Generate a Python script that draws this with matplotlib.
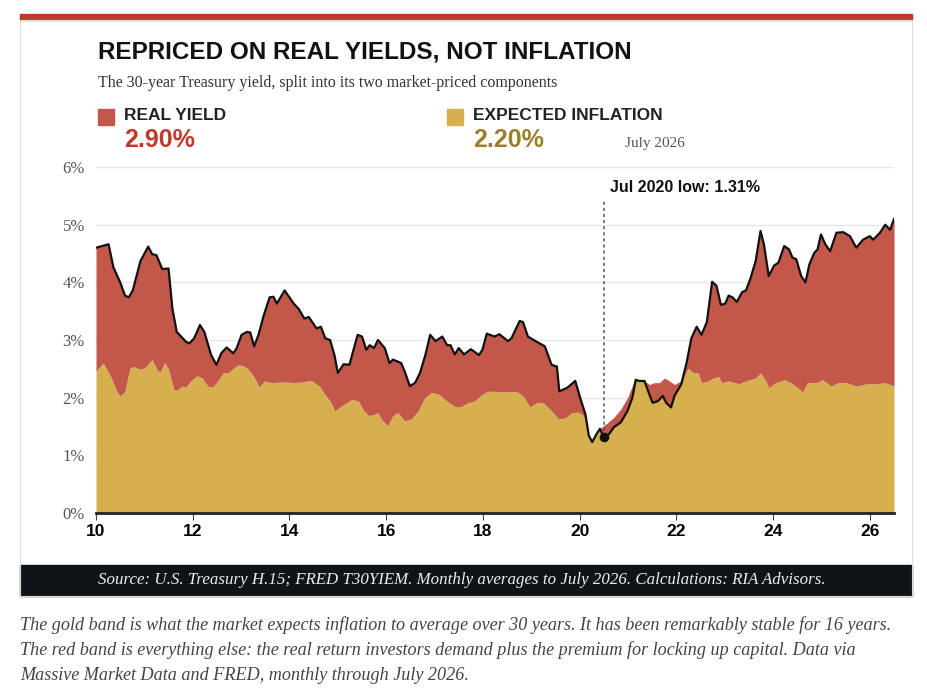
import numpy as np
import matplotlib.pyplot as plt
from matplotlib.patches import Rectangle

plt.rcParams['font.family'] = ['Liberation Sans', 'DejaVu Sans']

# 30-year Treasury yield (total), decimal years since 2000
yield_x = [10.0, 10.26, 10.36, 10.5, 10.6, 10.68, 10.76, 10.92, 11.08, 11.16, 11.25, 11.37, 11.5, 11.58,
           11.67, 11.86, 11.93, 12.03, 12.15, 12.24, 12.38, 12.49, 12.59, 12.7, 12.84, 12.91, 13.01, 13.12,
           13.19, 13.27, 13.36, 13.47, 13.59, 13.67, 13.74, 13.9, 14.09, 14.19, 14.31, 14.4, 14.56, 14.65,
           14.74, 14.84, 14.93, 15.0, 15.12, 15.24, 15.41, 15.5, 15.59, 15.66, 15.75, 15.83, 15.97, 16.07,
           16.14, 16.31, 16.38, 16.49, 16.6, 16.7, 16.81, 16.91, 17.02, 17.16, 17.26, 17.33, 17.42, 17.5,
           17.61, 17.75, 17.92, 17.99, 18.08, 18.24, 18.34, 18.52, 18.59, 18.76, 18.83, 18.93, 19.11, 19.28,
           19.42, 19.53, 19.58, 19.74, 19.91, 20.01, 20.12, 20.19, 20.26, 20.35, 20.42, 20.5, 20.61, 20.71,
           20.85, 20.99, 21.09, 21.16, 21.23, 21.34, 21.44, 21.51, 21.62, 21.72, 21.79, 21.89, 21.96, 22.1,
           22.21, 22.31, 22.42, 22.52, 22.63, 22.74, 22.83, 22.92, 23.01, 23.08, 23.16, 23.25, 23.36, 23.44,
           23.53, 23.64, 23.74, 23.81, 23.91, 24.02, 24.11, 24.23, 24.33, 24.4, 24.48, 24.58, 24.67, 24.75,
           24.85, 24.92, 24.99, 25.08, 25.18, 25.31, 25.45, 25.59, 25.72, 25.86, 26.0, 26.07, 26.21, 26.32,
           26.42, 26.5]
yield_v = [4.6, 4.66, 4.26, 4.0, 3.77, 3.74, 3.86, 4.37, 4.62, 4.49, 4.47, 4.23, 4.24, 3.54,
           3.14, 2.97, 2.94, 3.03, 3.26, 3.14, 2.74, 2.57, 2.77, 2.87, 2.77, 2.86, 3.09, 3.14,
           3.13, 2.89, 3.09, 3.43, 3.74, 3.75, 3.63, 3.86, 3.63, 3.54, 3.37, 3.4, 3.2, 3.23,
           3.03, 3.0, 2.74, 2.43, 2.58, 2.57, 3.09, 3.06, 2.83, 2.91, 2.86, 3.0, 2.86, 2.6,
           2.66, 2.6, 2.46, 2.2, 2.26, 2.43, 2.74, 3.09, 2.98, 3.06, 2.91, 2.91, 2.75, 2.86,
           2.75, 2.84, 2.74, 2.83, 3.11, 3.06, 3.1, 2.98, 3.03, 3.33, 3.31, 3.06, 2.97, 2.89,
           2.57, 2.54, 2.11, 2.17, 2.29, 2.0, 1.71, 1.34, 1.23, 1.37, 1.46, 1.31, 1.37, 1.49,
           1.57, 1.77, 2.0, 2.31, 2.29, 2.29, 2.06, 1.91, 1.94, 2.03, 1.91, 1.83, 2.03, 2.23,
           2.6, 3.03, 3.23, 3.09, 3.31, 4.01, 3.94, 3.61, 3.63, 3.77, 3.74, 3.66, 3.83, 3.86,
           4.06, 4.37, 4.89, 4.66, 4.11, 4.29, 4.34, 4.63, 4.57, 4.43, 4.4, 4.11, 4.0, 4.31,
           4.51, 4.57, 4.83, 4.66, 4.54, 4.86, 4.87, 4.8, 4.6, 4.74, 4.8, 4.74, 4.86, 5.0,
           4.91, 5.1]

# 30-year expected inflation
infl_x = [10.0, 10.15, 10.3, 10.43, 10.5, 10.6, 10.7, 10.78, 10.88, 11.0, 11.16, 11.27, 11.33, 11.42,
          11.5, 11.61, 11.68, 11.78, 11.85, 11.96, 12.09, 12.2, 12.31, 12.41, 12.52, 12.63, 12.73, 12.84,
          12.94, 13.05, 13.15, 13.26, 13.38, 13.48, 13.65, 13.83, 13.97, 14.04, 14.24, 14.45, 14.62,
          14.73, 14.84, 14.94, 15.08, 15.29, 15.43, 15.54, 15.64, 15.75, 15.82, 15.93, 16.03, 16.14,
          16.24, 16.38, 16.52, 16.66, 16.8, 16.94, 17.09, 17.3, 17.44, 17.54, 17.68, 17.82, 17.99,
          18.1, 18.27, 18.48, 18.69, 18.83, 18.97, 19.11, 19.25, 19.42, 19.56, 19.7, 19.84, 19.98,
          20.08, 20.19, 20.26, 20.4, 20.5, 20.57, 20.71, 20.85, 20.99, 21.13, 21.23, 21.34, 21.44,
          21.55, 21.65, 21.75, 21.82, 21.96, 22.1, 22.24, 22.35, 22.45, 22.52, 22.66, 22.76, 22.87,
          22.94, 23.08, 23.29, 23.5, 23.64, 23.74, 23.85, 23.91, 24.05, 24.23, 24.37, 24.51, 24.61,
          24.71, 24.89, 25.03, 25.2, 25.34, 25.52, 25.72, 25.93, 26.14, 26.32, 26.5]
infl_v = [2.46, 2.6, 2.37, 2.11, 2.03, 2.11, 2.51, 2.54, 2.5, 2.51, 2.66, 2.47, 2.45, 2.61,
          2.49, 2.14, 2.13, 2.2, 2.18, 2.29, 2.38, 2.34, 2.2, 2.18, 2.29, 2.43, 2.43, 2.51,
          2.57, 2.55, 2.49, 2.37, 2.18, 2.29, 2.26, 2.27, 2.27, 2.26, 2.27, 2.3, 2.2,
          2.06, 1.94, 1.77, 1.86, 1.97, 1.94, 1.77, 1.69, 1.71, 1.74, 1.6, 1.51, 1.69,
          1.74, 1.6, 1.63, 1.77, 2.0, 2.09, 2.06, 1.91, 1.84, 1.84, 1.91, 1.94, 2.06,
          2.11, 2.11, 2.1, 2.11, 2.03, 1.84, 1.91, 1.91, 1.77, 1.63, 1.65, 1.74, 1.75,
          1.69, 1.34, 1.26, 1.42, 1.52, 1.56, 1.66, 1.8, 2.0, 2.29, 2.3, 2.29, 2.23,
          2.26, 2.26, 2.34, 2.31, 2.23, 2.29, 2.51, 2.43, 2.43, 2.26, 2.29, 2.34, 2.37,
          2.26, 2.29, 2.24, 2.31, 2.34, 2.43, 2.29, 2.17, 2.26, 2.31, 2.26, 2.17, 2.1,
          2.26, 2.26, 2.31, 2.2, 2.26, 2.26, 2.2, 2.24, 2.24, 2.26, 2.2]

low_x, low_v = 20.5, 1.31
x_ticks = [10, 12, 14, 16, 18, 20, 22, 24, 26]
y_ticks = [0, 1, 2, 3, 4, 5, 6]

RED = '#C3574A'
GOLD = '#D6B04F'
serif = 'Liberation Serif'

W, H = 928, 696
fig = plt.figure(figsize=(9.28, 6.96), dpi=100)

def fx(px): return px / W
def fy(py): return 1 - py / H

# top rule, frame, footer band
fig.add_artist(Rectangle((fx(20), fy(20)), fx(892), 6 / H, color='#C0392B', transform=fig.transFigure))
fig.add_artist(Rectangle((fx(20), fy(596)), fx(892), 31 / H, color='#101418', transform=fig.transFigure))
fig.add_artist(Rectangle((fx(20), fy(596)), fx(892), 576 / H, fill=False, ec='#dddddd', lw=0.8,
                         transform=fig.transFigure))

fig.text(fx(98), fy(52), 'REPRICED ON REAL YIELDS, NOT INFLATION', fontsize=17.5, fontweight='bold',
         va='center', color='#111111')
fig.text(fx(98), fy(83), 'The 30-year Treasury yield, split into its two market-priced components',
         fontsize=11.5, family=serif, va='center', color='#333333')

fig.add_artist(Rectangle((fx(98), fy(125)), 16 / W, 16 / H, color=RED, transform=fig.transFigure))
fig.text(fx(124), fy(116), 'REAL YIELD', fontsize=12.5, fontweight='bold', va='center', color='#222222')
fig.text(fx(124), fy(140), '2.90%', fontsize=18, fontweight='bold', va='center', color='#C0392B')
fig.add_artist(Rectangle((fx(447), fy(125)), 16 / W, 16 / H, color=GOLD, transform=fig.transFigure))
fig.text(fx(473), fy(116), 'EXPECTED INFLATION', fontsize=12.5, fontweight='bold', va='center', color='#222222')
fig.text(fx(473), fy(140), '2.20%', fontsize=18, fontweight='bold', va='center', color='#9C7F2A')
fig.text(fx(625), fy(143), 'July 2026', fontsize=11, family=serif, va='center', color='#555555')

ax = fig.add_axes([fx(96), fy(513), fx(894 - 96), (513 - 167) / H])
grid = np.union1d(yield_x, infl_x)
ty = np.interp(grid, yield_x, yield_v)
ti = np.interp(grid, infl_x, infl_v)
lo = np.minimum(ty, ti)
hi = np.maximum(ty, ti)
ax.fill_between(grid, 0, lo, color=GOLD, lw=0)
ax.fill_between(grid, lo, hi, color=RED, lw=0)
ax.plot(yield_x, yield_v, color='#111111', lw=1.6)
ax.plot([low_x, low_x], [low_v, 5.45], color='#555555', ls=(0, (2, 2)), lw=1.1)
ax.scatter([low_x], [low_v], color='#111111', s=35, zorder=5)
ax.text(low_x + 0.12, 5.65, 'Jul 2020 low: 1.31%', fontsize=11.5, fontweight='bold', va='center', color='#111111')

ax.set_xlim(10, 26.5)
ax.set_ylim(0, 6)
ax.set_xticks(x_ticks)
ax.set_xticklabels([str(t) for t in x_ticks], fontsize=12.5, fontweight='bold')
ax.set_yticks(y_ticks)
ax.set_yticklabels([f'{t}%' for t in y_ticks], fontsize=12, family=serif, color='#555555')
ax.grid(axis='y', color='#e6e6e6', lw=1)
ax.set_axisbelow(True)
for s in ['top', 'right', 'left']:
    ax.spines[s].set_visible(False)
ax.spines['bottom'].set_linewidth(2)
ax.spines['bottom'].set_color('#222222')
ax.tick_params(axis='y', length=0, pad=8)
ax.tick_params(axis='x', length=5, color='#444444', pad=3)

fig.text(fx(462), fy(580), 'Source: U.S. Treasury H.15; FRED T30YIEM. Monthly averages to July 2026. Calculations: RIA Advisors.',
         fontsize=12.2, family=serif, style='italic', color='#eeeeee', ha='center', va='center')
caption = ['The gold band is what the market expects inflation to average over 30 years. It has been remarkably stable for 16 years.',
           'The red band is everything else: the real return investors demand plus the premium for locking up capital. Data via',
           'Massive Market Data and FRED, monthly through July 2026.']
for i, line in enumerate(caption):
    fig.text(fx(20), fy(625 + 25 * i), line, fontsize=13.1, family=serif, style='italic', color='#444444', va='center')

fig.savefig('out.png', dpi=100)
